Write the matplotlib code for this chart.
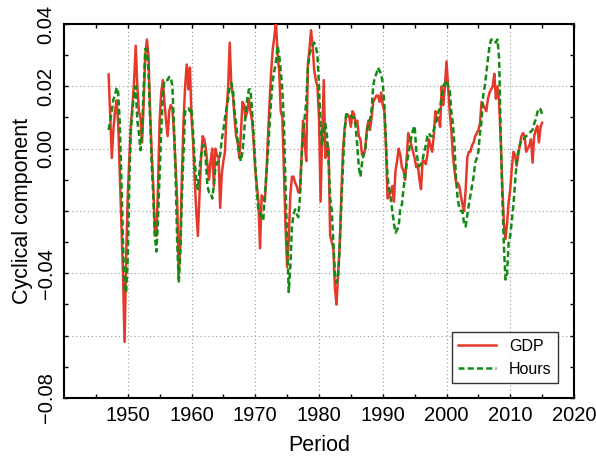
import numpy as np
import matplotlib
matplotlib.use("Agg")
import matplotlib.pyplot as plt

plt.rcParams['font.family'] = ['Liberation Sans', 'DejaVu Sans']

start_year = 1947.0  # 1947Q1, quarterly

gdp = [
    0.0238, 0.010, -0.003, 0.006,      # 1947
    0.012, 0.0155, 0.008, -0.008,      # 1948
    -0.025, -0.040, -0.062, -0.035,    # 1949
    -0.015, -0.003, 0.008, 0.014,      # 1950
    0.022, 0.033, 0.020, 0.012,        # 1951
    0.010, 0.002, 0.015, 0.030,        # 1952
    0.035, 0.030, 0.012, -0.001,       # 1953
    -0.012, -0.027, -0.028, -0.012,    # 1954
    0.009, 0.018, 0.022, 0.015,        # 1955
    0.009, 0.004, 0.012, 0.014,        # 1956
    0.013, 0.005, -0.005, -0.017,      # 1957
    -0.040, -0.030, -0.008, 0.009,     # 1958
    0.020, 0.027, 0.019, 0.026,        # 1959
    0.010, 0.002, -0.010, -0.020,      # 1960
    -0.028, -0.015, -0.003, 0.004,     # 1961
    0.003, 0.000, -0.005, -0.010,      # 1962
    -0.004, 0.000, -0.012, 0.000,      # 1963
    -0.002, -0.003, -0.019, -0.008,    # 1964
    -0.004, -0.001, 0.012, 0.020,      # 1965
    0.034, 0.020, 0.017, 0.010,        # 1966
    0.004, 0.002, -0.003, 0.005,       # 1967
    0.015, 0.014, 0.010, 0.012,        # 1968
    0.016, 0.012, 0.009, 0.002,        # 1969
    -0.007, -0.012, -0.017, -0.032,    # 1970
    -0.015, -0.016, -0.017, -0.008,    # 1971
    0.004, 0.015, 0.025, 0.032,        # 1972
    0.036, 0.041, 0.030, 0.025,        # 1973
    0.012, 0.010, -0.007, -0.025,      # 1974
    -0.038, -0.029, -0.015, -0.009,    # 1975
    -0.009, -0.011, -0.012, -0.014,    # 1976
    -0.014, -0.003, 0.009, 0.002,      # 1977
    -0.004, 0.027, 0.032, 0.038,       # 1978
    0.033, 0.025, 0.022, 0.020,        # 1979
    0.010, -0.017, 0.005, 0.022,       # 1980
    -0.003, 0.002, 0.000, -0.028,      # 1981
    -0.030, -0.032, -0.045, -0.050,    # 1982
    -0.040, -0.031, -0.015, -0.001,    # 1983
    0.006, 0.010, 0.011, 0.010,        # 1984
    0.007, 0.012, 0.011, 0.008,        # 1985
    0.009, 0.004, 0.003, -0.002,       # 1986
    -0.002, 0.000, 0.006, 0.009,       # 1987
    0.006, 0.010, 0.015, 0.016,        # 1988
    0.017, 0.017, 0.015, 0.018,        # 1989
    0.014, 0.012, 0.001, -0.016,       # 1990
    -0.015, -0.014, -0.012, -0.017,    # 1991
    -0.007, -0.004, 0.000, -0.002,     # 1992
    -0.006, -0.007, -0.010, -0.003,    # 1993
    0.005, 0.003, 0.001, -0.001,       # 1994
    -0.003, -0.006, -0.005, -0.010,    # 1995
    -0.013, -0.004, -0.004, -0.005,    # 1996
    -0.002, 0.003, 0.001, -0.001,      # 1997
    0.004, 0.012, 0.009, 0.010,        # 1998
    0.007, 0.020, 0.014, 0.020,        # 1999
    0.028, 0.020, 0.012, 0.006,        # 2000
    -0.002, -0.007, -0.011, -0.011,    # 2001
    -0.012, -0.015, -0.018, -0.020,    # 2002
    -0.0135, -0.003, -0.001, -0.001,   # 2003
    0.001, 0.002, 0.004, 0.005,        # 2004
    0.006, 0.008, 0.015, 0.014,        # 2005
    0.013, 0.012, 0.016, 0.018,        # 2006
    0.019, 0.020, 0.024, 0.016,        # 2007
    0.020, 0.015, 0.003, -0.012,       # 2008
    -0.024, -0.029, -0.024, -0.017,    # 2009
    -0.013, -0.006, -0.001, -0.002,    # 2010
    -0.0055, -0.002, 0.001, 0.004,     # 2011
    0.005, 0.004, -0.001, 0.000,       # 2012
    0.001, 0.003, -0.0045, 0.004,      # 2013
    0.006, 0.0073, 0.002, 0.007,       # 2014
    0.0083,                            # 2015
]

hours = [
    0.006, 0.009, 0.012, 0.0158,       # 1947
    0.017, 0.0196, 0.018, 0.008,       # 1948
    -0.010, -0.030, -0.046, -0.046,    # 1949
    -0.035, -0.010, 0.006, 0.013,      # 1950
    0.0173, 0.020, 0.009, 0.005,       # 1951
    -0.0005, 0.006, 0.0195, 0.032,     # 1952
    0.032, 0.025, 0.010, -0.005,       # 1953
    -0.015, -0.028, -0.033, -0.022,    # 1954
    -0.008, 0.006, 0.017, 0.022,       # 1955
    0.022, 0.022, 0.023, 0.023,        # 1956
    0.020, 0.007, -0.008, -0.030,      # 1957
    -0.043, -0.033, -0.015, -0.001,    # 1958
    0.012, 0.0126, 0.013, 0.012,       # 1959
    0.013, 0.005, -0.004, -0.010,      # 1960
    -0.013, -0.007, -0.002, 0.001,     # 1961
    0.001, -0.004, -0.012, -0.014,     # 1962
    -0.014, -0.016, -0.012, -0.006,    # 1963
    -0.0045, -0.004, -0.002, 0.003,    # 1964
    0.006, 0.010, 0.013, 0.016,        # 1965
    0.020, 0.021, 0.019, 0.012,        # 1966
    0.008, 0.002, -0.002, -0.004,      # 1967
    -0.001, 0.005, 0.012, 0.016,       # 1968
    0.019, 0.019, 0.012, 0.004,        # 1969
    -0.005, -0.014, -0.020, -0.021,    # 1970
    -0.022, -0.023, -0.015, -0.008,    # 1971
    -0.001, 0.008, 0.016, 0.022,       # 1972
    0.025, 0.028, 0.033, 0.030,        # 1973
    0.025, 0.019, 0.008, -0.012,       # 1974
    -0.030, -0.046, -0.038, -0.025,    # 1975
    -0.021, -0.0195, -0.021, -0.022,   # 1976
    -0.016, -0.004, 0.005, 0.010,      # 1977
    0.015, 0.026, 0.030, 0.032,        # 1978
    0.033, 0.034, 0.033, 0.030,        # 1979
    0.020, 0.006, 0.001, 0.007,        # 1980
    0.008, 0.004, -0.004, -0.016,      # 1981
    -0.020, -0.030, -0.040, -0.043,    # 1982
    -0.041, -0.031, -0.018, -0.006,    # 1983
    0.005, 0.011, 0.011, 0.0105,       # 1984
    0.0105, 0.010, 0.010, 0.007,       # 1985
    0.001, -0.006, -0.009, -0.0045,    # 1986
    -0.002, 0.000, 0.005, 0.008,       # 1987
    0.0094, 0.0126, 0.020, 0.023,      # 1988
    0.024, 0.026, 0.025, 0.024,        # 1989
    0.021, 0.014, 0.002, -0.009,       # 1990
    -0.013, -0.016, -0.020, -0.024,    # 1991
    -0.027, -0.026, -0.025, -0.019,    # 1992
    -0.018, -0.013, -0.009, -0.005,    # 1993
    -0.002, 0.001, 0.004, 0.006,       # 1994
    0.0073, -0.0005, -0.004, -0.0056,  # 1995
    -0.005, -0.0035, -0.001, 0.001,    # 1996
    0.004, 0.005, 0.004, 0.004,        # 1997
    0.006, 0.008, 0.010, 0.012,        # 1998
    0.013, 0.017, 0.020, 0.021,        # 1999
    0.022, 0.020, 0.019, 0.012,        # 2000
    0.008, 0.001, -0.010, -0.016,      # 2001
    -0.019, -0.020, -0.020, -0.024,    # 2002
    -0.025, -0.0215, -0.018, -0.015,   # 2003
    -0.012, -0.009, -0.0045, -0.003,   # 2004
    -0.001, 0.005, 0.009, 0.017,       # 2005
    0.020, 0.0244, 0.029, 0.033,       # 2006
    0.035, 0.035, 0.035, 0.034,        # 2007
    0.035, 0.029, 0.005, -0.015,       # 2008
    -0.031, -0.042, -0.040, -0.030,    # 2009
    -0.028, -0.023, -0.018, -0.011,    # 2010
    -0.0045, -0.001, 0.001, 0.003,     # 2011
    0.003, 0.0035, 0.004, 0.0045,      # 2012
    0.005, 0.0055, 0.006, 0.008,       # 2013
    0.0094, 0.0116, 0.013, 0.0126,     # 2014
    0.011,                             # 2015
]

x_ticks = [1950, 1960, 1970, 1980, 1990, 2000, 2010, 2020]
y_ticks = [-0.08, -0.06, -0.04, -0.02, 0.00, 0.02, 0.04]
y_tick_labels = ['\u22120.08', '', '\u22120.04', '', '0.00', '0.02', '0.04']

t = start_year + np.arange(len(gdp)) / 4.0

fig = plt.figure(figsize=(5.96, 4.61), dpi=100)
ax = fig.add_axes([0.1074, 0.1367, 0.8557, 0.8113])

ax.plot(t, gdp, color='#e4392b', lw=1.8, label='GDP', zorder=3)
ax.plot(t, hours, color='#138a13', lw=1.8, linestyle=(0, (2.4, 1.3)),
        label='Hours', zorder=4)

ax.set_xlim(1940, 2020)
ax.set_ylim(-0.08, 0.04)
ax.set_xticks(x_ticks)
ax.set_xticks(np.arange(1945, 2020, 10), minor=True)
ax.set_yticks(y_ticks)
ax.set_yticklabels(y_tick_labels, rotation=90, va='center')
ax.set_yticks(np.arange(-0.07, 0.04, 0.02), minor=True)

ax.grid(True, which='major', linestyle=(0, (1, 2.5)), color='#9a9a9a', lw=0.8)
ax.tick_params(which='both', direction='in', top=True, right=True,
               length=3, width=1, labelsize=14.5, pad=6)
for s in ax.spines.values():
    s.set_linewidth(1.5)

ax.set_xlabel('Period', fontsize=15.5, labelpad=7)
ax.set_ylabel('Cyclical component', fontsize=15.5, labelpad=3)

leg = ax.legend(loc='lower right', bbox_to_anchor=(0.969, 0.040),
                borderaxespad=0, fontsize=11.5, frameon=True, fancybox=False,
                handlelength=2.4, edgecolor='black')
leg.get_frame().set_linewidth(1.0)

fig.savefig('out.png', dpi=100)
